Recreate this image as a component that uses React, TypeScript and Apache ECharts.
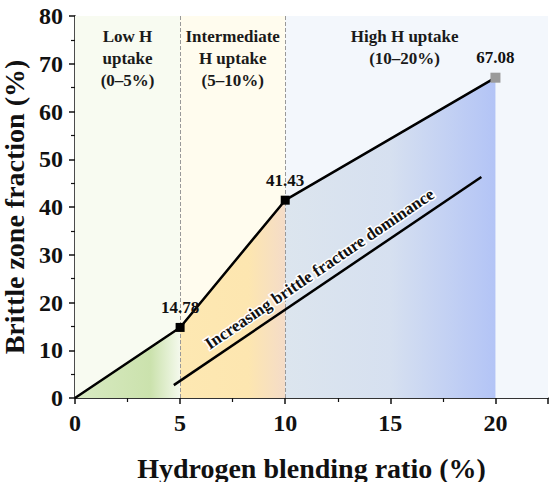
import React, { useEffect, useRef } from "react";
import * as echarts from "echarts";

const blendRatio = [0, 5, 10, 20];
const brittleFraction = [0, 14.78, 41.43, 67.08];
const regionRanges = [
  [0, 5],
  [5, 10],
  [10, 22.5],
];
const regionLabels = ["Low H\nuptake\n(0–5%)", "Intermediate\nH uptake\n(5–10%)", "High H uptake\n(10–20%)"];
const regionBg = ["#f8fbf1", "#fffcee", "#f3f7fc"];
const dividers = [5, 10];
const arrowStart = [4.7, 2.7];
const arrowEnd = [19.33, 46.3];
const arrowText = "Increasing brittle fracture dominance";

const FONT = "'Liberation Serif', 'Times New Roman', serif";

export default function App() {
  const ref = useRef<HTMLDivElement>(null);
  useEffect(() => {
    if (!ref.current) return;
    const chart = echarts.init(ref.current, undefined, { renderer: "svg" });
    const pts = blendRatio.map((x, i) => [x, brittleFraction[i]]);
    const grad = (stops: [number, string][]) =>
      new echarts.graphic.LinearGradient(0, 0, 1, 0, stops.map(([o, c]) => ({ offset: o, color: c })));
    const areaStops: [number, string][][] = [
      [
        [0, "#d8eac2"],
        [0.72, "#cbe2ad"],
        [1, "#f4f9ec"],
      ],
      [
        [0, "#fde8b2"],
        [0.65, "#fde6b0"],
        [1, "#f4dcc8"],
      ],
      [
        [0, "#dce5ee"],
        [0.5, "#d6e0f0"],
        [1, "#b3c4f6"],
      ],
    ];
    const areaSeries = [0, 1, 2].map((i) => ({
      type: "line",
      data: [pts[i], pts[i + 1]],
      symbol: "none",
      lineStyle: { width: 0 },
      areaStyle: { color: grad(areaStops[i]), opacity: 1 },
      z: 2,
      silent: true,
    }));
    const axisFont = { fontFamily: FONT, fontWeight: "bold", color: "#111" };
    chart.setOption({
      animation: false,
      backgroundColor: "#fff",
      grid: { left: 75, right: 2, top: 16, bottom: 84, outerBoundsMode: "none", containLabel: false },
      xAxis: [
        {
          type: "value",
          min: 0,
          max: 22.5,
          interval: 5,
          name: "Hydrogen blending ratio (%)",
          nameLocation: "middle",
          nameGap: 56,
          nameTextStyle: { ...axisFont, fontSize: 28 },
          axisLine: { show: true, lineStyle: { color: "#111", width: 1.5 } },
          axisTick: { show: true, inside: false, length: 6, lineStyle: { color: "#111", width: 1.5 } },
          minorTick: { show: true, splitNumber: 2, length: 4, lineStyle: { color: "#111", width: 1.2 } },
          axisLabel: { ...axisFont, fontSize: 24, margin: 13, showMaxLabel: false },
          splitLine: { show: false },
        },
        {
          type: "value",
          position: "top",
          min: 0,
          max: 22.5,
          axisLine: { show: true, lineStyle: { color: "#333", width: 1.2 } },
          axisTick: { show: false },
          axisLabel: { show: false },
          splitLine: { show: false },
        },
      ],
      yAxis: [
        {
          type: "value",
          min: 0,
          max: 80,
          interval: 10,
          name: "Brittle zone fraction (%)",
          nameLocation: "middle",
          nameGap: 37,
          nameTextStyle: { ...axisFont, fontSize: 28 },
          axisLine: { show: true, lineStyle: { color: "#111", width: 1.5 } },
          axisTick: { show: true, inside: false, length: 6, lineStyle: { color: "#111", width: 1.5 } },
          minorTick: { show: true, splitNumber: 2, length: 4, lineStyle: { color: "#111", width: 1.2 } },
          axisLabel: { ...axisFont, fontSize: 24, margin: 12 },
          splitLine: { show: false },
        },
        {
          type: "value",
          position: "right",
          min: 0,
          max: 80,
          axisLine: { show: true, lineStyle: { color: "#777", width: 1 } },
          axisTick: { show: false },
          axisLabel: { show: false },
          splitLine: { show: false },
        },
      ],
      series: [
        {
          type: "line",
          data: [],
          z: 1,
          silent: true,
          markArea: {
            silent: true,
            data: regionRanges.map((r, i) => [
              {
                xAxis: r[0],
                yAxis: 80,
                itemStyle: { color: regionBg[i] },
                label: {
                  show: true,
                  position: "insideTop",
                  distance: 9,
                  formatter: regionLabels[i],
                  offset: i === 2 ? [-12, 0] : [0, 0],
                  fontFamily: FONT,
                  fontWeight: "bold",
                  fontSize: 17,
                  lineHeight: 22,
                  color: "#1a1a1a",
                  align: "center",
                },
              },
              { xAxis: r[1], yAxis: 0 },
            ]),
          },
        },
        ...areaSeries,
        {
          type: "line",
          data: pts.map((p, i) => ({
            value: p,
            symbolSize: i === 0 ? 0 : i === 3 ? 10 : 9,
            itemStyle: { color: i === 3 ? "#9a9a9a" : "#000" },
            label: { show: i > 0 },
          })),
          symbol: "rect",
          lineStyle: { color: "#000", width: 2.5 },
          label: {
            show: true,
            position: "top",
            distance: 7,
            formatter: (p: any) => p.value[1].toFixed(2),
            fontFamily: FONT,
            fontWeight: "bold",
            fontSize: 17,
            color: "#111",
          },
          z: 5,
          markLine: {
            silent: true,
            symbol: ["none", "none"],
            label: { show: false },
            lineStyle: { color: "#999", width: 1, type: "dashed" },
            data: dividers.map((d) => ({ xAxis: d })),
          },
        },
        {
          type: "line",
          data: [],
          z: 6,
          markLine: {
            silent: true,
            symbol: ["none", "arrow"],
            symbolSize: [0, 14],
            lineStyle: { color: "#000", width: 2.5, type: "solid" },
            label: {
              show: true,
              position: "insideMiddleTop",
              distance: 6,
              formatter: arrowText,
              fontFamily: FONT,
              fontWeight: "bold",
              fontSize: 17,
              color: "#111",
              textBorderColor: "#fff",
              textBorderWidth: 3,
            },
            data: [[{ coord: arrowStart }, { coord: arrowEnd }]],
          },
        },
      ],
    });
    return () => chart.dispose();
  }, []);
  return <div ref={ref} style={{ position: "fixed", left: 0, top: 0, width: 550, height: 482 }} />;
}
